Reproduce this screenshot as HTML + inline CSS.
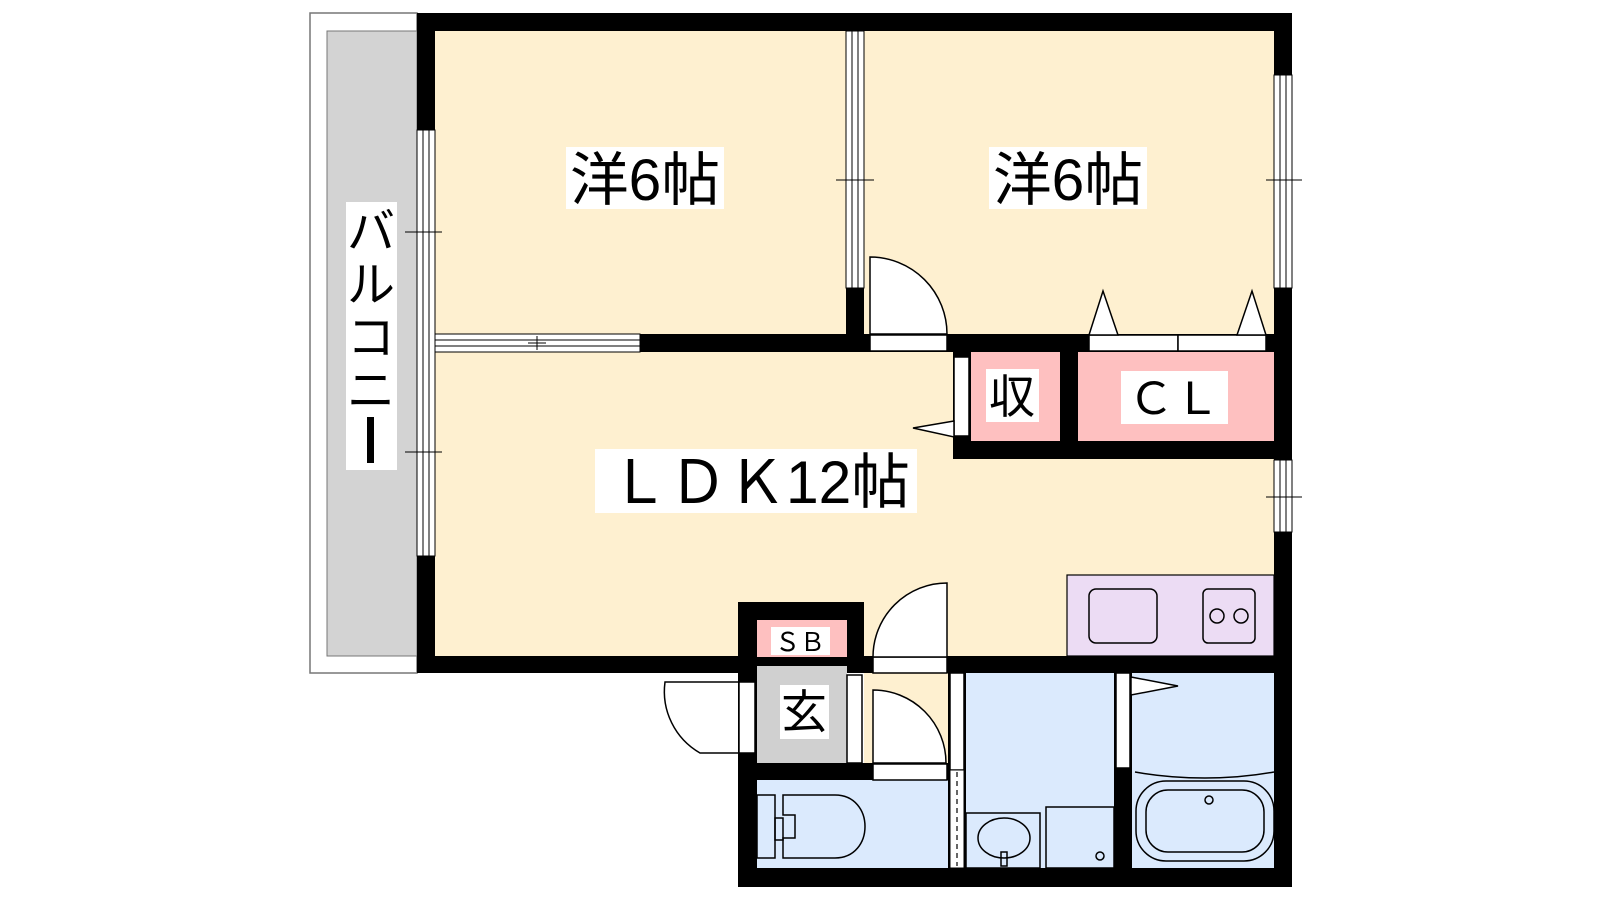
<!DOCTYPE html>
<html><head><meta charset="utf-8"><style>
html,body{margin:0;padding:0;background:#fff;width:1600px;height:900px;overflow:hidden}
text{font-family:"Liberation Sans","Noto Sans CJK JP",sans-serif;fill:#000}
</style></head><body>
<svg width="1600" height="900" viewBox="0 0 1600 900" xmlns="http://www.w3.org/2000/svg">
<!-- balcony -->
<rect x="310" y="13" width="107" height="660" fill="#fff" stroke="#777" stroke-width="1.5"/>
<rect x="327" y="31" width="90" height="625" fill="#d3d3d3" stroke="#777" stroke-width="1"/>
<!-- floors -->
<rect x="435" y="31" width="839" height="625" fill="#fef0d0"/>
<rect x="864" y="656" width="84" height="107" fill="#fef0d0"/>
<!-- closets -->
<rect x="971" y="352" width="89" height="89" fill="#fec0c0"/>
<rect x="1078" y="352" width="196" height="89" fill="#fec0c0"/>
<!-- kitchen -->
<rect x="1067" y="575" width="207" height="81" fill="#ecdcf4" stroke="#000" stroke-width="1.2"/>
<rect x="1089" y="589" width="68" height="54" rx="7" fill="none" stroke="#000" stroke-width="1.5"/>
<rect x="1203" y="589" width="52" height="54" rx="5" fill="none" stroke="#000" stroke-width="1.5"/>
<circle cx="1217" cy="616" r="7" fill="none" stroke="#000" stroke-width="1.5"/>
<circle cx="1241" cy="616" r="7" fill="none" stroke="#000" stroke-width="1.5"/>
<!-- wet areas -->
<rect x="757" y="780" width="191" height="88" fill="#dbeafd"/>
<rect x="966" y="673" width="148" height="195" fill="#dbeafd"/>
<rect x="1132" y="673" width="142" height="195" fill="#dbeafd"/>
<!-- genkan / SB -->
<rect x="738" y="602" width="126" height="71" fill="#000"/>
<rect x="757" y="620" width="90" height="37" fill="#fec0c0"/>
<rect x="757" y="666" width="90" height="97" fill="#d0d0d0"/>
<!-- walls -->
<g fill="#000">
<rect x="417" y="13" width="875" height="18"/>
<rect x="1274" y="13" width="18" height="874"/>
<rect x="417" y="13" width="18" height="660"/>
<rect x="846" y="13" width="18" height="339"/>
<rect x="417" y="334" width="875" height="18"/>
<rect x="953" y="352" width="18" height="107"/>
<rect x="1060" y="352" width="18" height="89"/>
<rect x="953" y="441" width="339" height="18"/>
<rect x="417" y="656" width="321" height="17"/>
<rect x="864" y="656" width="428" height="17"/>
<rect x="738" y="602" width="19" height="285"/>
<rect x="738" y="763" width="215" height="17"/>
<rect x="948" y="673" width="18" height="214"/>
<rect x="1114" y="673" width="18" height="214"/>
<rect x="738" y="868" width="554" height="19"/>
</g>
<!-- windows (white with lines) -->
<g fill="#fff" stroke="#000" stroke-width="1">
<rect x="417" y="130" width="18" height="426"/>
<rect x="846" y="31" width="18" height="257"/>
<rect x="1274" y="75" width="18" height="213"/>
<rect x="1274" y="460" width="18" height="72"/>
<rect x="435" y="334" width="205" height="18"/>
</g>
<g stroke="#000" stroke-width="1">
<line x1="423" y1="130" x2="423" y2="556"/><line x1="429" y1="130" x2="429" y2="556"/>
<line x1="852" y1="31" x2="852" y2="288"/><line x1="858" y1="31" x2="858" y2="288"/>
<line x1="1280" y1="75" x2="1280" y2="288"/><line x1="1286" y1="75" x2="1286" y2="288"/>
<line x1="1280" y1="460" x2="1280" y2="532"/><line x1="1286" y1="460" x2="1286" y2="532"/>
<line x1="435" y1="340" x2="640" y2="340"/><line x1="435" y1="346" x2="640" y2="346"/>
<line x1="405" y1="232" x2="442" y2="232"/><line x1="423" y1="225" x2="423" y2="239"/><line x1="429" y1="225" x2="429" y2="239"/>
<line x1="405" y1="452" x2="442" y2="452"/><line x1="423" y1="445" x2="423" y2="459"/><line x1="429" y1="445" x2="429" y2="459"/>
<line x1="836" y1="180" x2="874" y2="180"/>
<line x1="1266" y1="180" x2="1302" y2="180"/>
<line x1="1266" y1="497" x2="1302" y2="497"/>
<line x1="528" y1="343" x2="546" y2="343"/><line x1="537" y1="336" x2="537" y2="350"/>
</g>
<!-- doors -->
<g fill="#fff" stroke="#000" stroke-width="1.5">
<rect x="870" y="335" width="77" height="16"/>
<path d="M870 334 V257 A77 77 0 0 1 947 334 Z"/>
<rect x="1089" y="335" width="89" height="16"/><rect x="1178" y="335" width="88" height="16"/>
<path d="M1089 335 L1103 291 L1118 335 Z"/><path d="M1237 335 L1252 291 L1266 335 Z"/>
<rect x="954" y="357" width="15" height="79"/>
<path d="M954 421 L913 428 L954 437 Z"/>
<rect x="873" y="657" width="74" height="16"/>
<path d="M947 657 V583 A74 74 0 0 0 873 657 Z"/>
<rect x="873" y="764" width="74" height="16"/>
<path d="M873 763 V690 A73 73 0 0 1 946 763 Z"/>
<rect x="739" y="682" width="16" height="71"/>
<path d="M738 753 H700 A71 71 0 0 1 665 682 H738"/>
<rect x="847" y="675" width="15" height="88"/>
<rect x="950" y="673" width="14" height="97"/>
<rect x="1116" y="673" width="14" height="95"/>
<path d="M1131 677 L1178 686 L1131 695 Z"/>
</g>
<rect x="950" y="770" width="14" height="98" fill="#fff" stroke="#000"/>
<line x1="957" y1="772" x2="957" y2="866" stroke="#000" stroke-width="1.2" stroke-dasharray="5,4"/>
<!-- toilet -->
<g fill="none" stroke="#000" stroke-width="1.5">
<rect x="757" y="795" width="18" height="63"/>
<path d="M783 795 H835 C875 795 875 858 835 858 H783 V838 H795 V815 H783 Z"/>
<rect x="775" y="818" width="8" height="22"/>
<!-- sink -->
<rect x="966" y="813" width="74" height="55"/>
<ellipse cx="1004" cy="838" rx="26" ry="20"/>
<rect x="1001" y="852" width="6" height="14"/>
<rect x="1046" y="807" width="68" height="61"/>
<circle cx="1100" cy="856" r="4"/>
<!-- bath -->
<path d="M1135 772 C1180 780 1230 780 1274 772"/>
<rect x="1136" y="781" width="138" height="80" rx="30"/>
<rect x="1146" y="790" width="118" height="62" rx="22"/>
<circle cx="1209" cy="800" r="4"/>
</g>
<!-- labels -->
<rect x="566" y="147" width="158" height="62" fill="#fff"/>
<text x="645" y="200" font-size="58" text-anchor="middle" textLength="150" lengthAdjust="spacingAndGlyphs">洋6帖</text>
<rect x="989" y="147" width="158" height="62" fill="#fff"/>
<text x="1068" y="200" font-size="58" text-anchor="middle" textLength="150" lengthAdjust="spacingAndGlyphs">洋6帖</text>
<rect x="595" y="449" width="322" height="64" fill="#fff"/>
<text x="610" y="503" font-size="60" textLength="300" lengthAdjust="spacingAndGlyphs">ＬＤＫ12帖</text>
<rect x="986" y="369" width="53" height="53" fill="#fff"/>
<text x="1012" y="413" font-size="46" text-anchor="middle">収</text>
<rect x="1121" y="371" width="107" height="53" fill="#fff"/>
<text x="1174" y="414" font-size="44" text-anchor="middle" textLength="92" lengthAdjust="spacingAndGlyphs">ＣＬ</text>
<rect x="771" y="627" width="59" height="28" fill="#fff"/>
<text x="800" y="651" font-size="26" text-anchor="middle" textLength="50" lengthAdjust="spacingAndGlyphs">ＳＢ</text>
<rect x="780" y="685" width="49" height="54" fill="#fff"/>
<text x="804" y="728" font-size="46" text-anchor="middle">玄</text>
<rect x="346" y="202" width="51" height="268" fill="#fff"/>
<g font-size="48" text-anchor="middle">
<text x="371" y="248">バ</text>
<text x="371" y="301">ル</text>
<text x="371" y="354">コ</text>
<text x="371" y="407">ニ</text>
</g>
<rect x="367" y="417" width="7" height="46" fill="#000"/>
</svg>
</body></html>
